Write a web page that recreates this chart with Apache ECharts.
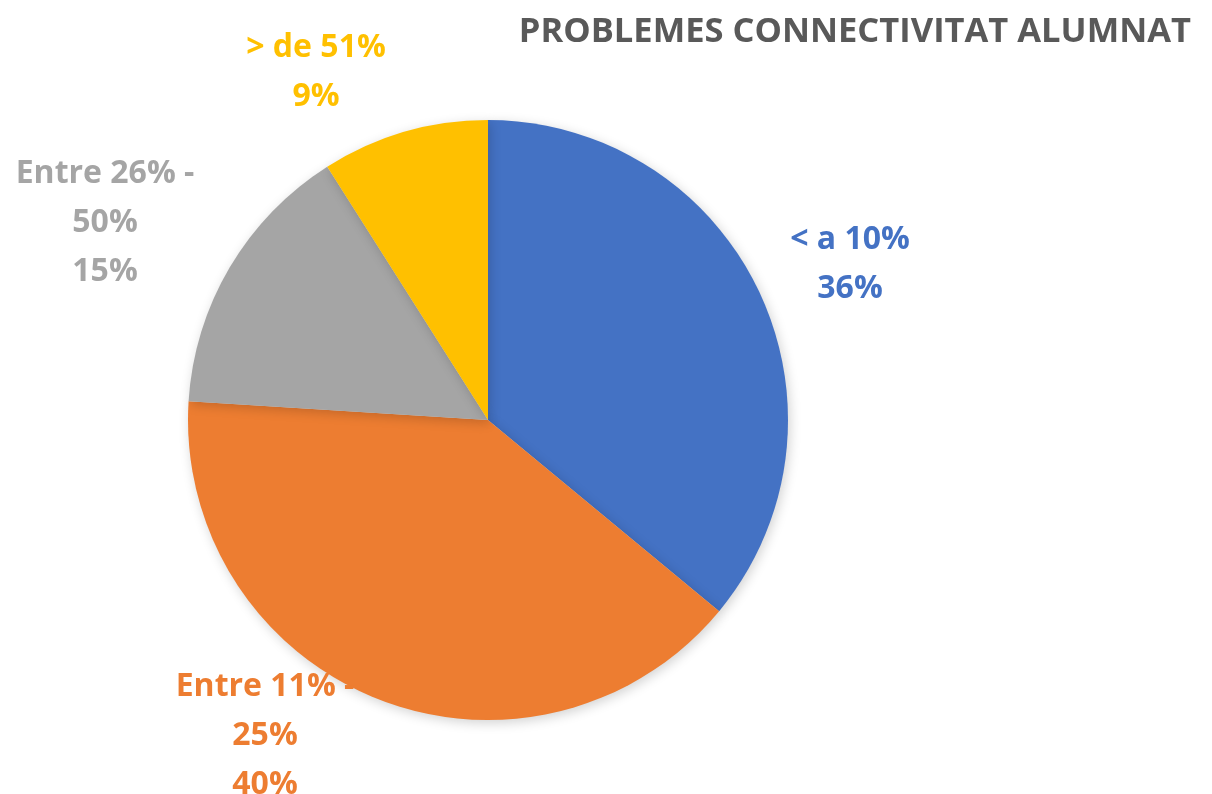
<!DOCTYPE html>
<html>
<head>
<meta charset="utf-8">
<script src="https://cdn.jsdelivr.net/npm/echarts@6/dist/echarts.min.js"></script>
<style>
    html, body { margin: 0; padding: 0; background: #fff; }
    #chart { width: 1212px; height: 794px; }
</style>
</head>
<body>
<div id="chart"></div>
<script>
// 数据
const categories = ['< a 10%', 'Entre 11% -\n25%', 'Entre 26% -\n50%', '> de 51%'];
const values = [36, 40, 15, 9];
const colors = ['#4472C4', '#ED7D31', '#A5A5A5', '#FFC000'];
// 标签位置（文字中心）
const labelPos = [[850, 264], [265, 736], [105, 223], [316, 72]];

const chart = echarts.init(document.getElementById('chart'));

const option = {
    backgroundColor: '#fff',
    animation: false,
    title: {
        text: 'PROBLEMES CONNECTIVITAT ALUMNAT',
        right: 16,
        top: 10,
        textStyle: {
            color: '#595959',
            fontFamily: 'Open Sans',
            fontWeight: 'bold',
            fontSize: 34.5
        }
    },
    series: [{
        type: 'pie',
        center: [488, 420],
        radius: 300,
        startAngle: 90,
        clockwise: true,
        silent: true,
        itemStyle: {
            shadowColor: 'rgba(0,0,0,0.18)',
            shadowBlur: 12,
            shadowOffsetX: 2,
            shadowOffsetY: 3
        },
        label: {
            show: true,
            position: 'outside',
            formatter: function (p) {
                return p.name + '\n' + p.value + '%';
            },
            fontFamily: 'Open Sans',
            fontWeight: 'bold',
            fontSize: 32,
            lineHeight: 49,
            align: 'center',
            overflow: 'none',
            color: 'inherit'
        },
        labelLine: { show: false },
        labelLayout: function (params) {
            const pos = labelPos[params.dataIndex];
            return {
                x: pos[0],
                y: pos[1],
                align: 'center',
                verticalAlign: 'middle',
                moveOverlap: null
            };
        },
        data: categories.map(function (name, i) {
            return {
                name: name,
                value: values[i],
                itemStyle: { color: colors[i] },
                label: { color: colors[i] }
            };
        })
    }]
};

chart.setOption(option);
</script>
</body>
</html>
